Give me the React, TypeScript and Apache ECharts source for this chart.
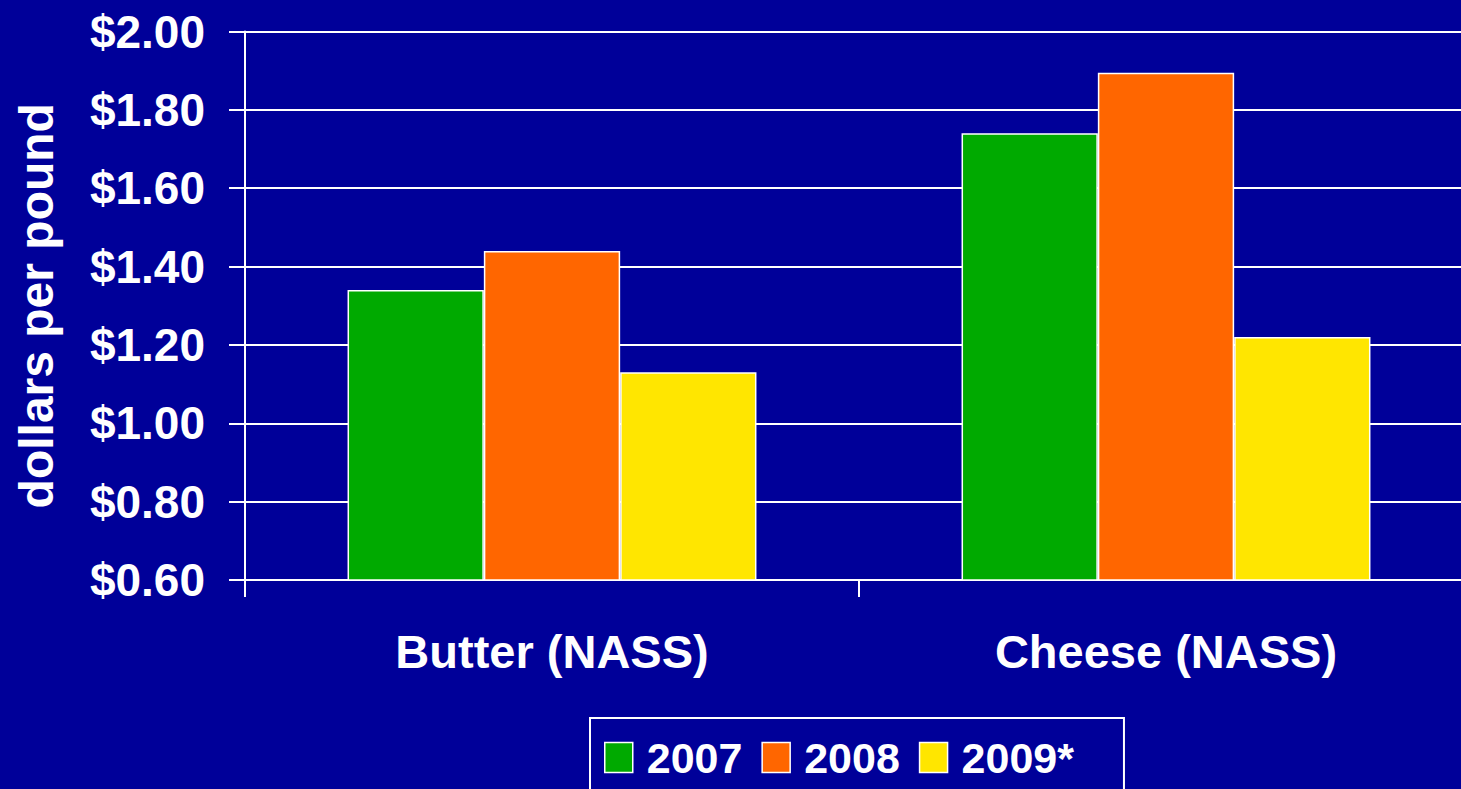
import React, { useEffect, useRef } from "react";
import * as echarts from "echarts";

// Wholesale dairy prices, dollars per pound
const categories = ["Butter (NASS)", "Cheese (NASS)"];
const years = ["2007", "2008", "2009*"];
const prices2007 = [1.34, 1.74];
const prices2008 = [1.44, 1.895];
const prices2009 = [1.13, 1.22];
const yearColors = ["#00AA00", "#FF6600", "#FFE600"];

const FONT = 'Arial, "Liberation Sans", sans-serif';
const WHITE = "#ffffff";
const BG = "#000099";

export default function App() {
  const ref = useRef<HTMLDivElement>(null);

  useEffect(() => {
    if (!ref.current) return;
    const chart = echarts.init(ref.current, undefined, { renderer: "svg" });
    const seriesValues = [prices2007, prices2008, prices2009];

    chart.setOption({
      animation: false,
      backgroundColor: BG,
      textStyle: { fontFamily: FONT },
      // the plot area runs a little past the right edge of the visible frame
      grid: { left: 245, top: 31.5, bottom: 209, right: 0, containLabel: false },
      legend: {
        data: years,
        left: 590,
        top: 718,
        padding: [18, 50, 40, 14],
        borderColor: WHITE,
        borderWidth: 2,
        itemWidth: 28,
        itemHeight: 30,
        itemGap: 19,
        icon: "rect",
        itemStyle: { borderColor: WHITE, borderWidth: 1.5 },
        textStyle: {
          color: WHITE,
          fontSize: 43,
          fontWeight: "bold",
          fontFamily: FONT,
          padding: [0, 0, 0, 9],
        },
      },
      xAxis: {
        type: "category",
        data: categories,
        axisLine: { show: true, lineStyle: { color: WHITE, width: 2 } },
        axisTick: { show: true, length: 17, lineStyle: { color: WHITE, width: 2 } },
        axisLabel: {
          color: WHITE,
          fontSize: 47,
          fontWeight: "bold",
          fontFamily: FONT,
          margin: 48,
        },
        splitLine: { show: false },
      },
      yAxis: {
        type: "value",
        min: 0.6,
        max: 2.0,
        interval: 0.2,
        name: "dollars per pound",
        nameLocation: "middle",
        nameGap: 185,
        nameRotate: 90,
        nameTextStyle: {
          color: WHITE,
          fontSize: 48,
          fontWeight: "bold",
          fontFamily: FONT,
        },
        axisLine: { show: true, lineStyle: { color: WHITE, width: 2 } },
        axisTick: { show: true, length: 16, lineStyle: { color: WHITE, width: 2 } },
        axisLabel: {
          color: WHITE,
          fontSize: 46,
          fontWeight: "bold",
          fontFamily: FONT,
          margin: 40,
          formatter: (v: number) => "$" + v.toFixed(2),
        },
        splitLine: { show: true, lineStyle: { color: WHITE, width: 2 } },
      },
      series: years.map((name, i) => ({
        name,
        type: "bar",
        data: seriesValues[i],
        barGap: "0%",
        barCategoryGap: "33.4%",
        itemStyle: { color: yearColors[i], borderColor: WHITE, borderWidth: 1.5 },
      })),
    });

    return () => chart.dispose();
  }, []);

  return (
    <div
      style={{
        position: "fixed",
        left: 0,
        top: 0,
        width: 1461,
        height: 789,
        overflow: "hidden",
      }}
    >
      <div ref={ref} style={{ width: 1473, height: 789 }} />
    </div>
  );
}
